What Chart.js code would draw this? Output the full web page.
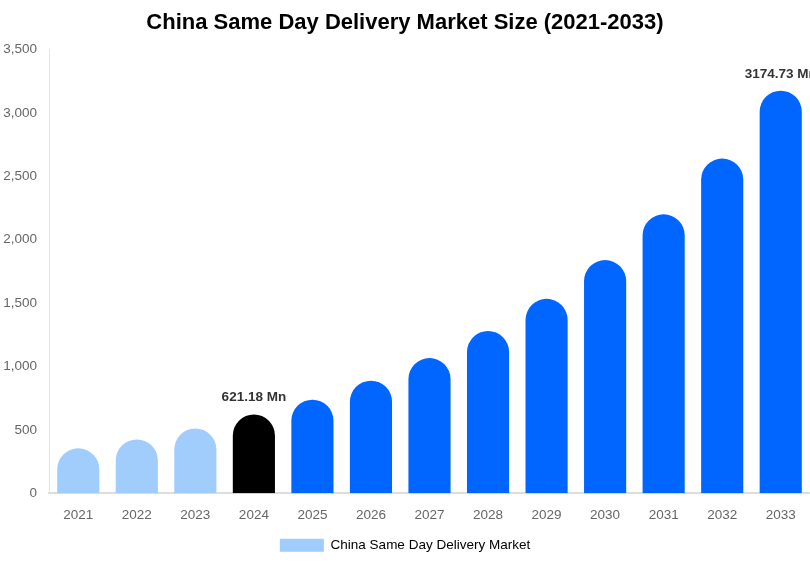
<!DOCTYPE html>
<html><head><meta charset="utf-8">
<script src="https://cdn.jsdelivr.net/npm/chart.js@4.4.0/dist/chart.umd.min.js"></script>
<style>html,body{margin:0;padding:0;background:#fff}#w{width:810px;height:562px}</style>
</head><body><div id="w"><canvas id="c"></canvas></div>
<script>
const years = ['2021','2022','2023','2024','2025','2026','2027','2028','2029','2030','2031','2032','2033'];
const marketSize = [355, 425, 511, 621.18, 738, 888, 1066, 1280, 1533, 1839, 2200, 2639, 3174.73];
const barColors = ['#a0cdfc','#a0cdfc','#a0cdfc','#000000','#0066ff','#0066ff','#0066ff','#0066ff','#0066ff','#0066ff','#0066ff','#0066ff','#0066ff'];
const labelledIndexes = [3, 12];
const seriesName = 'China Same Day Delivery Market';
const titleText = 'China Same Day Delivery Market Size (2021-2033)';
const FONT = '"Liberation Sans", Arial, sans-serif';

const valueLabels = {
  id: 'valueLabels',
  afterDatasetsDraw(chart) {
    const ctx = chart.ctx;
    const meta = chart.getDatasetMeta(0);
    ctx.save();
    ctx.font = 'bold 13.5px ' + FONT;
    ctx.fillStyle = '#333333';
    ctx.textAlign = 'center';
    ctx.textBaseline = 'bottom';
    labelledIndexes.forEach(i => {
      const el = meta.data[i];
      ctx.fillText(marketSize[i].toFixed(2) + ' Mn', el.x, el.y - 10);
    });
    ctx.restore();
  }
};

new Chart(document.getElementById('c'), {
  type: 'bar',
  data: {
    labels: years,
    datasets: [{
      label: seriesName,
      data: marketSize,
      backgroundColor: barColors,
      borderRadius: {topLeft: 100, topRight: 100, bottomLeft: 0, bottomRight: 0},
      borderSkipped: 'bottom',
      barPercentage: 0.9,
      categoryPercentage: 0.8
    }]
  },
  options: {
    responsive: true,
    maintainAspectRatio: false,
    animation: false,
    layout: {padding: {left: 0, right: 0, top: 0, bottom: 0}},
    plugins: {
      title: {
        display: true,
        text: titleText,
        color: '#000',
        font: {family: FONT, size: 22, weight: 'bold'},
        padding: {top: 10, bottom: 13}
      },
      legend: {
        position: 'bottom',
        labels: {
          color: '#666',
          padding: 1,
          font: {family: FONT, size: 13.5},
          boxWidth: 44, boxHeight: 13,
          generateLabels: () => [{text: seriesName, fillStyle: barColors[0], strokeStyle: barColors[0], lineWidth: 0, hidden: false, datasetIndex: 0}]
        }
      },
      tooltip: {enabled: false}
    },
    scales: {
      x: {
        grid: {display: false, drawTicks: false},
        border: {display: true, color: '#dddddd', width: 2},
        ticks: {color: '#666', padding: 14, font: {family: FONT, size: 13.5}}
      },
      y: {
        min: 0, max: 3500,
        grid: {display: false, drawTicks: false},
        border: {display: true, color: '#e5e5e5', width: 1},
        afterFit(scale) { scale.width = 49; },
        ticks: {stepSize: 500, color: '#666', padding: 12, font: {family: FONT, size: 13.5}}
      }
    }
  },
  plugins: [valueLabels]
});
</script></body></html>
